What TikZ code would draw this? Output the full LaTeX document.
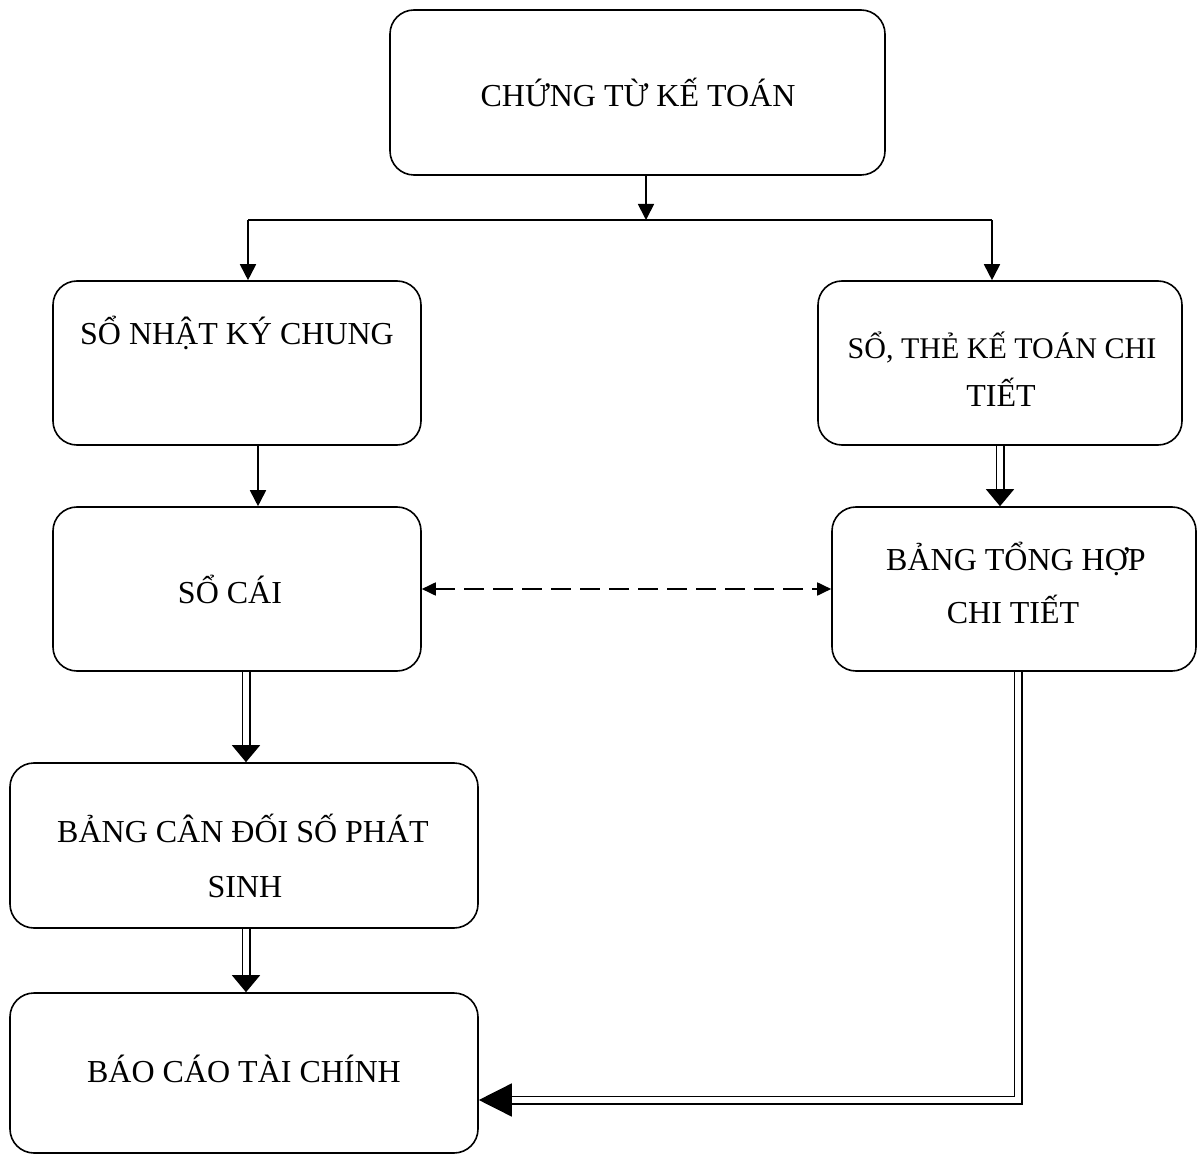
\documentclass[tikz,border=0pt]{standalone}
\usepackage{fontspec}
\setmainfont{Liberation Serif}
\usetikzlibrary{arrows.meta}
\begin{document}
\begin{tikzpicture}[x=1pt,y=-1pt,
  box/.style={draw,line width=1.6pt,rounded corners=24pt,inner sep=0pt},
  lbl/.style={anchor=base,inner sep=0pt,font=\fontsize{32}{40}\selectfont},
  conn/.style={line width=1.8pt},
  sarrow/.style={conn,-{Triangle[length=16pt,width=16pt]}},
  darrow/.style={line width=1.5pt,double,double distance=6pt,-{Triangle[length=17pt,width=28pt]}},
  barrow/.style={line width=1.5pt,double,double distance=6pt,-{Triangle[length=33pt,width=33pt]}},
  dasharrow/.style={conn,dash pattern=on 20pt off 9pt,{Triangle[length=14pt,width=13pt]}-{Triangle[length=14pt,width=13pt]}}
]
\useasboundingbox (0,0) rectangle (1200,1155);
% boxes
\node[box,minimum width=495pt,minimum height=165pt] (n1) at (637.5,92.5) {};
\node[box,minimum width=368pt,minimum height=164pt] (n2) at (237,363) {};
\node[box,minimum width=364pt,minimum height=164pt] (n3) at (1000,363) {};
\node[box,minimum width=368pt,minimum height=164pt] (n4) at (237,589) {};
\node[box,minimum width=364pt,minimum height=164pt] (n5) at (1014,589) {};
\node[box,minimum width=468pt,minimum height=165pt] (n6) at (244,845.5) {};
\node[box,minimum width=468pt,minimum height=160pt] (n7) at (244,1073) {};
% labels
\node[lbl] (t1) at (638,107) {CHỨNG TỪ KẾ TOÁN};
\node[lbl] (t2) at (237,345) {SỔ NHẬT KÝ CHUNG};
\node[lbl,font=\fontsize{30}{40}\selectfont] (t3a) at (1002,359) {SỔ, THẺ KẾ TOÁN CHI};
\node[lbl] (t3b) at (1001,407) {TIẾT};
\node[lbl] (t4) at (230,603) {SỔ CÁI};
\node[lbl] (t5a) at (1016,570) {BẢNG TỔNG HỢP};
\node[lbl] (t5b) at (1013,623) {CHI TIẾT};
\node[lbl] (t6a) at (243,842) {BẢNG CÂN ĐỐI SỐ PHÁT};
\node[lbl] (t6b) at (245,897) {SINH};
\node[lbl] (t7) at (244,1082) {BÁO CÁO TÀI CHÍNH};
% junction
\coordinate (j) at (646,220);
\coordinate (jl) at (248,220);
\coordinate (jr) at (992,220);
\draw[sarrow] (n1.south -| j) -- (j);
\draw[conn] (jl) -- (jr);
\draw[sarrow] (jl) -- (jl |- n2.north);
\draw[sarrow] (jr) -- (jr |- n3.north);
% left column
\coordinate (a1) at (258,0);
\draw[sarrow] (n2.south -| a1) -- (n4.north -| a1);
\coordinate (a2) at (246,0);
\draw[darrow] (n4.south -| a2) -- (n6.north -| a2);
\draw[darrow] (n6.south -| a2) -- (n7.north -| a2);
% right column
\draw[darrow] (n3.south) -- (n3.south |- n5.north);
% dashed
\draw[dasharrow] (n4.east) -- (n5.west);
% to report
\coordinate (c) at (1018,1100);
\draw[barrow] (n5.south -| c) -- (c) -- (c -| n7.east);
\end{tikzpicture}
\end{document}
